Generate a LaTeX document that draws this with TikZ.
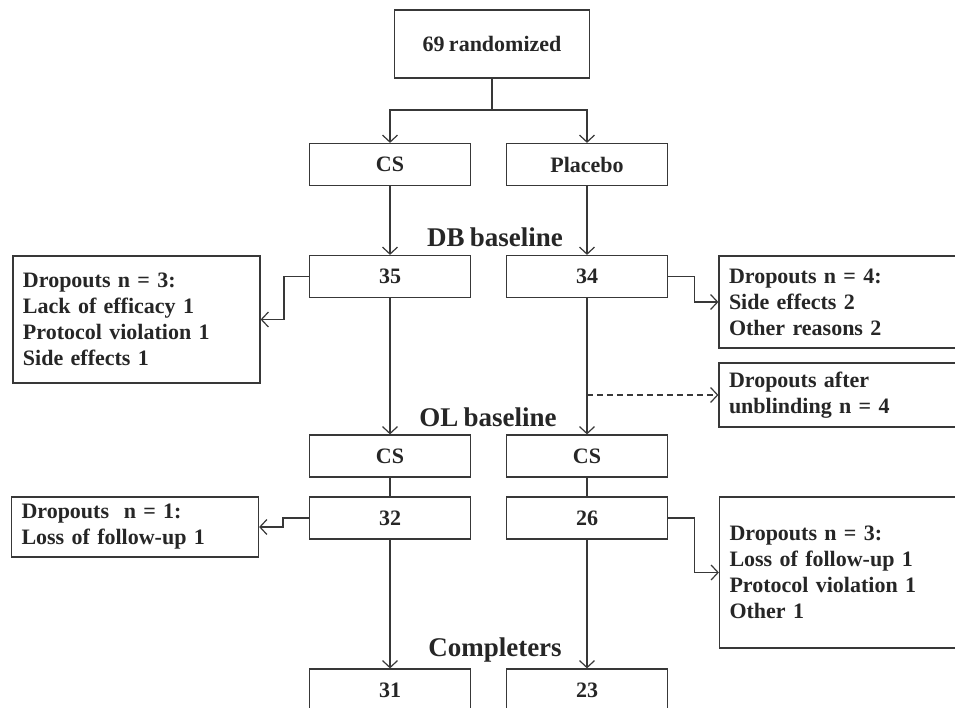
\documentclass[tikz,border=0pt]{standalone}
\usepackage{fontspec}
\setmainfont[WordSpace=0.8]{Liberation Serif}
\usetikzlibrary{arrows.meta,positioning,calc}

\begin{document}
\begin{tikzpicture}[
    x=1pt, y=-1pt,
    box/.style={rectangle, draw=black!78, line width=1.2pt, text=black!85, font=\fontsize{22}{26}\selectfont\bfseries, inner sep=0pt, minimum width=161pt, minimum height=42pt, align=center},
    dropbox/.style={box, align=left, inner xsep=10pt, text width=227pt},
    stage/.style={text=black!85, font=\fontsize{27}{32}\selectfont\bfseries},
    arrow/.style={-{Straight Barb[length=7pt,width=15pt]}, line width=1.2pt, draw=black!78},
    link/.style={line width=1.2pt, draw=black!78}
]
\useasboundingbox (0,0) rectangle (955,708);

% Draw boxes
\node[box, minimum width=195pt, minimum height=68pt] (rand) at (492,44) {69 randomized};

\node[box] (cs) at (390,164.5) {CS};
\node[box] (placebo) at (587,164.5) {Placebo};

\node[stage] (db) at (495,237) {DB baseline};
\node[box] (n35) at (390,276.5) {35};
\node[box] (n34) at (587,276.5) {34};

\node[dropbox, minimum height=127pt] (drop1) at (136.5,319.5) {Dropouts n = 3:\\Lack of efficacy 1\\Protocol violation 1\\Side effects 1};
\node[dropbox, minimum height=92pt] (drop2) at (842.5,302) {Dropouts n = 4:\\Side effects 2\\Other reasons 2};
\node[dropbox, minimum height=64pt] (drop3) at (842.5,395) {Dropouts after\\unblinding n = 4};

\node[stage] (ol) at (488,417) {OL baseline};
\node[box] (olcs1) at (390,456) {CS};
\node[box] (olcs2) at (587,456) {CS};
\node[box] (n32) at (390,518) {32};
\node[box] (n26) at (587,518) {26};

\node[dropbox, minimum height=60pt] (drop4) at (135,527) {Dropouts\ \ n = 1:\\Loss of follow-up 1};
\node[dropbox, minimum height=151pt] (drop5) at (843,572.5) {Dropouts n = 3:\\Loss of follow-up 1\\Protocol violation 1\\Other 1};

\node[stage] (compl) at (495,650) {Completers};
\node[box] (n31) at (390,690) {31};
\node[box] (n23) at (587,690) {23};

% Draw arrows
\coordinate (split) at (492,110);
\draw[link] (rand.south) -- (split);
\draw[arrow] (split) -| (cs.north);
\draw[arrow] (split) -| (placebo.north);

\draw[arrow] (cs.south) -- (n35.north);
\draw[arrow] (placebo.south) -- (n34.north);
\draw[arrow] (n35.west) -- ++(-25,0) |- (drop1.east);
\draw[arrow] (n34.east) -- ++(26,0) |- (drop2.west);

\coordinate (unblind) at (n34 |- drop3.west);
\draw[arrow, dash pattern=on 6pt off 4pt] (unblind) -- (drop3.west);

\draw[arrow] (n35.south) -- (olcs1.north);
\draw[arrow] (n34.south) -- (olcs2.north);
\draw[link] (olcs1.south) -- (n32.north);
\draw[link] (olcs2.south) -- (n26.north);
\draw[arrow] (n32.west) -- ++(-26,0) |- (drop4.east);
\draw[arrow] (n26.east) -- ++(26,0) |- (drop5.west);

\draw[arrow] (n32.south) -- (n31.north);
\draw[arrow] (n26.south) -- (n23.north);

\end{tikzpicture}
\end{document}
